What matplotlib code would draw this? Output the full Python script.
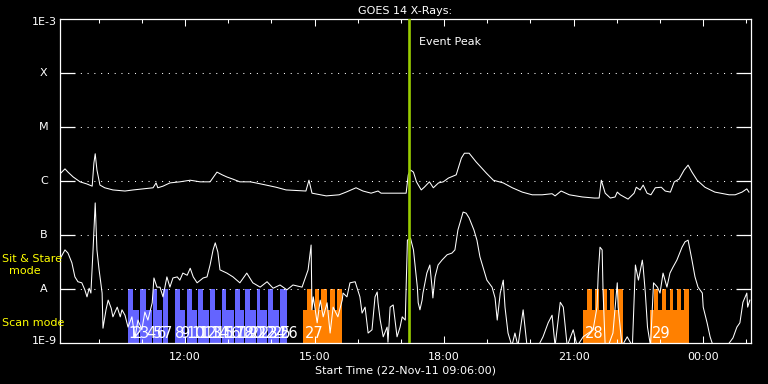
import numpy as np
import matplotlib
matplotlib.use('Agg')
import matplotlib.pyplot as plt

# ---------------- data (time in decimal hours of 22-Nov-2011, log10 flux W/m^2) ----------------
long_t = [9.12, 9.22, 9.29, 9.41, 9.57, 9.73, 9.85, 9.89, 9.92, 9.96, 10.03, 10.14, 10.33, 10.61,
          10.80, 11.03, 11.26, 11.33, 11.37, 11.49, 11.65, 11.88, 12.12, 12.35, 12.58, 12.74, 12.86,
          12.97, 13.11, 13.27, 13.51, 13.64, 13.88, 14.11, 14.34, 14.80, 14.87, 14.94, 15.27, 15.57,
          15.73, 15.96, 16.12, 16.31, 16.47, 16.54, 16.82, 17.12, 17.17, 17.22, 17.29, 17.36, 17.47,
          17.54, 17.66, 17.75, 17.87, 17.98, 18.10, 18.28, 18.40, 18.47, 18.58, 18.74, 18.98, 19.14,
          19.37, 19.58, 19.81, 20.04, 20.27, 20.50, 20.57, 20.71, 20.90, 21.20, 21.48, 21.59, 21.64,
          21.73, 21.85, 21.96, 22.01, 22.08, 22.26, 22.40, 22.45, 22.54, 22.61, 22.70, 22.79, 22.89,
          23.03, 23.12, 23.24, 23.33, 23.44, 23.56, 23.65, 23.74, 23.86, 24.04, 24.27, 24.60, 24.74,
          24.90, 25.01, 25.06]
long_log = [-5.85, -5.77, -5.83, -5.92, -6.01, -6.05, -6.09, -5.66, -5.49, -5.79, -6.07, -6.12, -6.16, -6.18,
            -6.16, -6.14, -6.12, -6.03, -6.12, -6.09, -6.03, -6.01, -5.98, -6.01, -6.01, -5.83, -5.88,
            -5.92, -5.96, -6.01, -6.01, -6.03, -6.07, -6.11, -6.16, -6.18, -5.98, -6.22, -6.27, -6.25,
            -6.20, -6.12, -6.18, -6.22, -6.18, -6.22, -6.22, -6.22, -5.88, -5.79, -5.83, -6.01, -6.16,
            -6.11, -6.01, -6.12, -6.03, -6.01, -5.94, -5.88, -5.57, -5.48, -5.48, -5.64, -5.85, -5.98,
            -6.03, -6.12, -6.20, -6.25, -6.25, -6.23, -6.27, -6.18, -6.25, -6.29, -6.31, -6.31, -5.98,
            -6.22, -6.31, -6.29, -6.20, -6.25, -6.33, -6.22, -6.11, -6.16, -6.07, -6.22, -6.25, -6.12,
            -6.11, -6.18, -6.20, -6.01, -5.96, -5.79, -5.70, -5.83, -5.98, -6.11, -6.20, -6.25, -6.25,
            -6.20, -6.14, -6.20]

short_t = [9.13, 9.22, 9.29, 9.38, 9.45, 9.52, 9.61, 9.68, 9.73, 9.78, 9.82, 9.87, 9.92, 9.96, 10.01,
           10.08, 10.10, 10.17, 10.22, 10.29, 10.33, 10.43, 10.50, 10.54, 10.61, 10.68, 10.77, 10.84,
           10.91, 11.00, 11.07, 11.14, 11.24, 11.28, 11.35, 11.42, 11.49, 11.58, 11.65, 11.72, 11.82,
           11.88, 11.95, 12.05, 12.12, 12.19, 12.28, 12.42, 12.51, 12.58, 12.65, 12.70, 12.76, 12.81,
           12.97, 13.11, 13.27, 13.43, 13.57, 13.74, 13.90, 14.04, 14.20, 14.36, 14.50, 14.71, 14.85,
           14.92, 14.94, 14.97, 15.06, 15.13, 15.20, 15.29, 15.36, 15.43, 15.54, 15.64, 15.66, 15.75,
           15.82, 15.94, 15.98, 16.05, 16.10, 16.17, 16.24, 16.33, 16.40, 16.45, 16.47, 16.52, 16.59,
           16.68, 16.70, 16.75, 16.82, 16.91, 16.98, 17.03, 17.10, 17.15, 17.22, 17.29, 17.38, 17.40,
           17.44, 17.49, 17.51, 17.60, 17.67, 17.72, 17.74, 17.79, 17.86, 17.95, 18.07, 18.18, 18.25,
           18.32, 18.44, 18.51, 18.58, 18.69, 18.76, 18.83, 18.99, 19.11, 19.18, 19.23, 19.30, 19.37,
           19.41, 19.48, 19.57, 19.64, 19.71, 19.83, 19.92, 20.06, 20.18, 20.29, 20.41, 20.50, 20.57,
           20.69, 20.76, 20.85, 20.99, 21.08, 21.22, 21.45, 21.54, 21.57, 21.61, 21.66, 21.68, 21.73,
           21.80, 21.91, 22.01, 22.03, 22.12, 22.24, 22.36, 22.43, 22.50, 22.59, 22.61, 22.66, 22.71,
           22.78, 22.85, 22.94, 23.00, 23.07, 23.16, 23.23, 23.30, 23.39, 23.51, 23.58, 23.65, 23.74,
           23.81, 23.88, 23.98, 24.00, 24.09, 24.16, 24.23, 24.39, 24.55, 24.69, 24.78, 24.85, 24.92,
           25.01, 25.03, 25.08]
short_log = [-7.40, -7.27, -7.33, -7.51, -7.77, -7.86, -7.88, -8.01, -8.14, -7.98, -8.07, -7.27, -6.40, -7.27, -7.64,
             -8.07, -8.72, -8.38, -8.20, -8.35, -8.51, -8.33, -8.51, -8.38, -8.48, -8.70, -8.51, -8.90,
             -8.57, -8.75, -8.42, -8.57, -8.25, -7.79, -7.96, -7.96, -8.14, -7.77, -7.96, -7.79, -7.77,
             -7.83, -7.70, -7.74, -7.61, -7.77, -7.88, -7.79, -7.77, -7.55, -7.27, -7.14, -7.31, -7.64,
             -7.70, -7.77, -7.88, -7.70, -7.88, -7.96, -7.86, -7.98, -7.92, -8.01, -7.92, -7.96, -7.64,
             -7.18, -8.38, -8.14, -8.62, -8.20, -8.51, -8.25, -8.81, -8.33, -8.51, -8.20, -8.07, -8.14,
             -7.88, -7.86, -7.96, -8.14, -8.44, -8.33, -8.81, -8.75, -8.14, -8.05, -8.25, -8.57, -8.88,
             -8.70, -8.98, -8.33, -8.29, -8.88, -8.70, -8.51, -8.57, -7.09, -7.05, -7.27, -7.96, -8.25,
             -8.38, -8.20, -8.07, -7.70, -7.55, -7.96, -8.16, -7.77, -7.55, -7.46, -7.36, -7.33, -7.27,
             -6.90, -6.57, -6.59, -6.68, -6.90, -7.09, -7.40, -7.83, -7.96, -8.16, -8.57, -8.07, -7.83,
             -8.33, -8.81, -9.05, -8.81, -9.05, -8.38, -9.05, -9.05, -9.05, -8.88, -8.62, -8.48, -9.05,
             -8.24, -8.33, -9.05, -8.75, -9.05, -8.88, -8.75, -8.33, -7.70, -7.22, -7.27, -8.01, -9.05,
             -9.05, -8.81, -7.88, -8.33, -9.05, -8.88, -9.05, -7.55, -7.83, -7.46, -7.59, -8.07, -8.70,
             -9.05, -7.88, -7.96, -8.07, -7.70, -7.96, -7.70, -7.59, -7.46, -7.22, -7.12, -7.09, -7.46,
             -7.77, -7.96, -8.07, -8.33, -8.62, -8.88, -9.05, -9.05, -9.05, -8.90, -8.70, -8.62, -8.24,
             -8.07, -8.33, -8.20]

event_peak = 17.18

# observation blocks (start, end) in hours
blue_tall = [(10.68, 10.80), (10.96, 11.10), (11.26, 11.35), (11.49, 11.60), (11.77, 11.88),
             (12.04, 12.16), (12.30, 12.42), (12.58, 12.70), (12.86, 12.95), (13.16, 13.27),
             (13.39, 13.51), (13.67, 13.74), (13.92, 14.04), (14.20, 14.36)]
blue_low = [(10.80, 10.93), (11.10, 11.23), (11.35, 11.46), (11.88, 12.01), (12.16, 12.27),
            (12.42, 12.55), (12.70, 12.83), (12.95, 13.13), (13.27, 13.36), (13.74, 13.89),
            (14.04, 14.17), (13.51, 13.64)]
orange_groups = [(14.73, 15.63), (21.22, 22.14), (22.77, 23.67)]
orange_tall = [(14.83, 14.94), (15.01, 15.10), (15.15, 15.29), (15.36, 15.47), (15.52, 15.63),
               (21.31, 21.43), (21.50, 21.59), (21.68, 21.77), (21.85, 21.94), (22.03, 22.14),
               (22.86, 22.95), (23.05, 23.14), (23.23, 23.30), (23.39, 23.48), (23.56, 23.67)]
orange_labels = ['27', '28', '29']
tall_top = 1e-8
low_top = 4.2e-9

level_values = [1e-9, 1e-8, 1e-7, 1e-6, 1e-5, 1e-4, 1e-3]
level_labels = ['1E-9', 'A', 'B', 'C', 'M', 'X', '1E-3']
time_ticks = [12, 15, 18, 21, 24]
time_labels = ['12:00', '15:00', '18:00', '21:00', '00:00']
minor_ticks = list(range(10, 26))

# ---------------- drawing ----------------
W, H = 768, 384
fig = plt.figure(figsize=(W / 100, H / 100), dpi=100, facecolor='black')
ax = fig.add_axes([59.8 / W, 1 - 343.3 / H, 690.9 / W, 324 / H], facecolor='black')
ax.set_yscale('log')
ax.set_xlim(9.1, 25.1)
ax.set_ylim(1e-9, 1e-3)

BLUE = '#6464ff'
ORANGE = '#ff8000'
FS = 8

# blocks
bottom = 1e-10
for s, e in blue_low:
    ax.bar(s, low_top - bottom, width=e - s, bottom=bottom, align='edge', color=BLUE, lw=0, zorder=1)
for s, e in blue_tall:
    ax.bar(s, tall_top - bottom, width=e - s, bottom=bottom, align='edge', color=BLUE, lw=0, zorder=1)
for s, e in orange_groups:
    ax.bar(s, low_top - bottom, width=e - s, bottom=bottom, align='edge', color=ORANGE, lw=0, zorder=1)
for s, e in orange_tall:
    ax.bar(s, tall_top - bottom, width=e - s, bottom=bottom, align='edge', color=ORANGE, lw=0, zorder=1)

blue_starts = sorted([s for s, e in blue_tall] + [s for s, e in blue_low])
for i, s in enumerate(blue_starts):
    ax.text(s, 1.12e-9, str(i + 1), color='white', fontsize=10.5, ha='left', va='bottom', zorder=4)
for (s, e), lab in zip(orange_groups, orange_labels):
    ax.text(s + 0.04, 1.12e-9, lab, color='white', fontsize=10.5, ha='left', va='bottom', zorder=4)

# dotted level lines
for v in level_values[1:-1]:
    ax.axhline(v, color='white', lw=0.75, ls=(0, (1, 5.5)), zorder=2)

# curves
ax.plot(long_t, 10 ** np.array(long_log), color='white', lw=0.75, zorder=3)
ax.plot(short_t, 10 ** np.array(short_log), color='white', lw=0.75, zorder=3)

# event peak
ax.axvline(event_peak, color='#99cc00', lw=1.9, zorder=5)
ax.annotate('Event Peak', xy=(event_peak, 0.93), xycoords=('data', 'axes fraction'),
            xytext=(10, 0), textcoords='offset pixels', color='white', fontsize=FS,
            ha='left', va='center')

# axes styling
for sp in ax.spines.values():
    sp.set_color('white')
    sp.set_linewidth(0.9)
ax.set_xticks(time_ticks)
ax.set_xticklabels(time_labels)
ax.set_xticks(minor_ticks, minor=True)
ax.tick_params(axis='x', which='major', direction='in', length=5, width=0.75, colors='white',
               top=True, bottom=True, labelsize=FS, pad=6)
ax.tick_params(axis='x', which='minor', direction='in', length=2.7, width=0.75, colors='white',
               top=True, bottom=True)
ax.set_yticks(level_values[1:-1])
ax.yaxis.set_minor_locator(matplotlib.ticker.NullLocator())
ax.tick_params(axis='y', which='major', direction='in', length=11, width=0.9, colors='white',
               left=True, right=True, labelleft=False)

for v, lab in zip(level_values, level_labels):
    if lab.startswith('1E'):
        dy = -2.7 if lab == '1E-3' else 2.6
        ax.annotate(lab, xy=(0, v), xycoords=('axes fraction', 'data'), xytext=(-3, dy),
                    textcoords='offset pixels', color='white', fontsize=FS, ha='right', va='center')
    else:
        ax.annotate(lab, xy=(0, v), xycoords=('axes fraction', 'data'), xytext=(-16, 0),
                    textcoords='offset pixels', color='white', fontsize=FS, ha='center', va='center')

ax.set_title('GOES 14 X-Rays:', color='white', fontsize=FS, pad=4)
ax.set_xlabel('Start Time (22-Nov-11 09:06:00)', color='white', fontsize=FS, labelpad=3)

# mode labels
fig.text(2 / W, 1 - 259 / H, 'Sit & Stare', color='yellow', fontsize=FS, ha='left', va='center')
fig.text(24.5 / W, 1 - 271 / H, 'mode', color='yellow', fontsize=FS, ha='center', va='center')
fig.text(2 / W, 1 - 322.5 / H, 'Scan mode', color='yellow', fontsize=FS, ha='left', va='center')

fig.savefig('out.png', dpi=100, facecolor='black')
